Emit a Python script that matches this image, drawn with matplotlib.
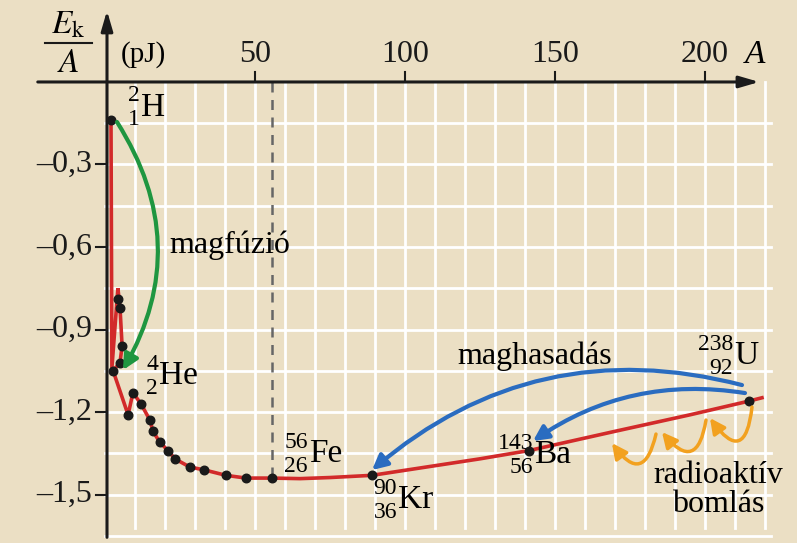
import matplotlib.pyplot as plt
import numpy as np

plt.rcParams['mathtext.fontset'] = 'stix'

# binding energy per nucleon (pJ, negative)
dot_A = [2, 2.7, 4.3, 5.0, 5.7, 5.0, 7.7, 9.3, 12, 15, 16, 18.3, 21, 23.3, 28.3, 33, 40.3, 47, 55.7, 89, 141.3, 214.7]
dot_E = [-0.138, -1.05, -0.79, -0.82, -0.96, -1.02, -1.21, -1.13, -1.17, -1.23, -1.27, -1.31, -1.34, -1.37,
         -1.40, -1.41, -1.43, -1.44, -1.44, -1.43, -1.34, -1.16]

# curve trace (light nuclei zig-zag, then smooth tail)
line_A = [2, 2.3, 4.3, 4.7, 5.0, 5.7, 5.0, 2.7, 7.7, 9.3, 12, 15, 16, 18.3, 21, 23.3, 28.3, 33, 40.3, 47, 55.7,
          65, 75, 89, 110, 125, 141.3, 170, 195, 214.7, 219]
line_E = [-0.138, -1.04, -0.75, -0.79, -0.82, -0.96, -1.02, -1.05, -1.21, -1.13, -1.17, -1.23, -1.27, -1.31,
          -1.34, -1.37, -1.40, -1.41, -1.43, -1.44, -1.44, -1.442, -1.438, -1.43, -1.395, -1.37, -1.34,
          -1.27, -1.21, -1.16, -1.148]

y_ticks = [-0.3, -0.6, -0.9, -1.2, -1.5]
y_labels = ['\u20130,3', '\u20130,6', '\u20130,9', '\u20131,2', '\u20131,5']
x_ticks = [50, 100, 150, 200]

BG = '#ebdfc4'
RED = '#d22a2a'
GREEN = '#1f9640'
BLUE = '#2a6cc0'
ORANGE = '#f2a11f'
FONT = 'Liberation Serif'

fig = plt.figure(figsize=(7.97, 5.43), dpi=100, facecolor=BG)
ax = fig.add_axes([0, 0, 1, 1])
ax.set_facecolor(BG)
ax.set_xlim(-35, 230.67)
ax.set_ylim(-1.676, 0.298)
ax.axis('off')

def P(px, py):
    # pixel position -> data coords (used for text/annotation placement)
    return ((px - 105) / 3.0, -(py - 82) / 275.0)

# grid
for gx in np.arange(10, 225, 10):
    ax.plot([gx, gx], [0, -1.62], color='white', lw=2, zorder=1)
for gy in np.arange(-0.15, -1.66, -0.15):
    ax.plot([0, 222], [gy, gy], color='white', lw=2, zorder=1)

# dashed Fe line
ax.plot([55.7, 55.7], [0, -1.44], color='#666666', lw=1.8, ls=(0, (4, 3)), zorder=2)

# axes with arrows
ax.annotate('', xy=P(762, 82), xytext=P(35, 82),
            arrowprops=dict(arrowstyle='-|>,head_length=1.2,head_width=0.35', color='#1a1a1a', lw=2.2), zorder=5)
ax.annotate('', xy=P(107, 8), xytext=P(107, 540),
            arrowprops=dict(arrowstyle='-|>,head_length=1.2,head_width=0.35', color='#1a1a1a', lw=2.2), zorder=5)

for t, lab in zip(y_ticks, y_labels):
    ax.plot([P(96, 0)[0], 0.6], [t, t], color='#1a1a1a', lw=1.5, zorder=5)
    ax.text(P(92, 0)[0], t, lab, ha='right', va='center', fontsize=23, family=FONT, color='#1a1a1a')
for t in x_ticks:
    ax.plot([t, t], [0, 0.035], color='#1a1a1a', lw=1.5, zorder=5)
    ax.text(t, 0.1, str(t), ha='center', va='center', fontsize=23, family=FONT, color='#1a1a1a')

ax.text(*P(755, 55), 'A', ha='center', va='center', fontsize=24, family=FONT, style='italic')
ax.text(*P(143, 55), '(pJ)', ha='center', va='center', fontsize=21, family=FONT)
ax.text(*P(68, 24), r'$E_{\rm k}$', ha='center', va='center', fontsize=24)
ax.text(*P(68, 63), r'$A$', ha='center', va='center', fontsize=24)
ax.plot([P(45, 0)[0], P(92, 0)[0]], [P(0, 43)[1]] * 2, color='#1a1a1a', lw=1.5)

# curve and points
ax.plot(line_A, line_E, color=RED, lw=2.6, zorder=3, solid_joinstyle='miter')
ax.scatter(dot_A, dot_E, s=38, color='#1a1a1a', zorder=4)

# nuclide labels
def nuclide(px, py, mass, z, sym, gap=12):
    ax.text(*P(px, py - gap), mass, ha='right', va='center', fontsize=17, family=FONT)
    ax.text(*P(px, py + gap), z, ha='right', va='center', fontsize=17, family=FONT)
    ax.text(*P(px + 1, py), sym, ha='left', va='center', fontsize=24, family=FONT)

nuclide(140, 108, '2', '1', 'H')
nuclide(158, 376, '4', '2', 'He')
nuclide(308, 454, '56', '26', 'Fe')
nuclide(397, 500, '90', '36', 'Kr')
nuclide(533, 455, '143', '56', 'Ba')
nuclide(733, 356, '238', '92', 'U')

ax.text(*P(230, 245), 'magfúzió', ha='center', va='center', fontsize=23, family=FONT)
ax.text(*P(535, 356), 'maghasadás', ha='center', va='center', fontsize=23, family=FONT)
ax.text(*P(718, 475), 'radioaktív', ha='center', va='center', fontsize=23, family=FONT)
ax.text(*P(718, 504), 'bomlás', ha='center', va='center', fontsize=23, family=FONT)

# process arrows
def arrow(p0, p1, rad, color, lw=3):
    ax.annotate('', xy=P(*p1), xytext=P(*p0),
                arrowprops=dict(arrowstyle='-|>,head_length=0.9,head_width=0.45', color=color, lw=lw,
                                connectionstyle='arc3,rad=%s' % rad, shrinkA=0, shrinkB=0), zorder=4)

arrow((117, 122), (123, 370), -0.3, GREEN)
arrow((742, 385), (372, 470), 0.26, BLUE)
arrow((745, 393), (533, 441), 0.2, BLUE)
arrow((752, 407), (710, 418), -1.3, ORANGE, 2.5)
arrow((706, 420), (662, 432), -1.1, ORANGE, 2.5)
arrow((656, 434), (612, 443), -1.1, ORANGE, 2.5)

fig.savefig('out.png', dpi=100, facecolor=BG)
